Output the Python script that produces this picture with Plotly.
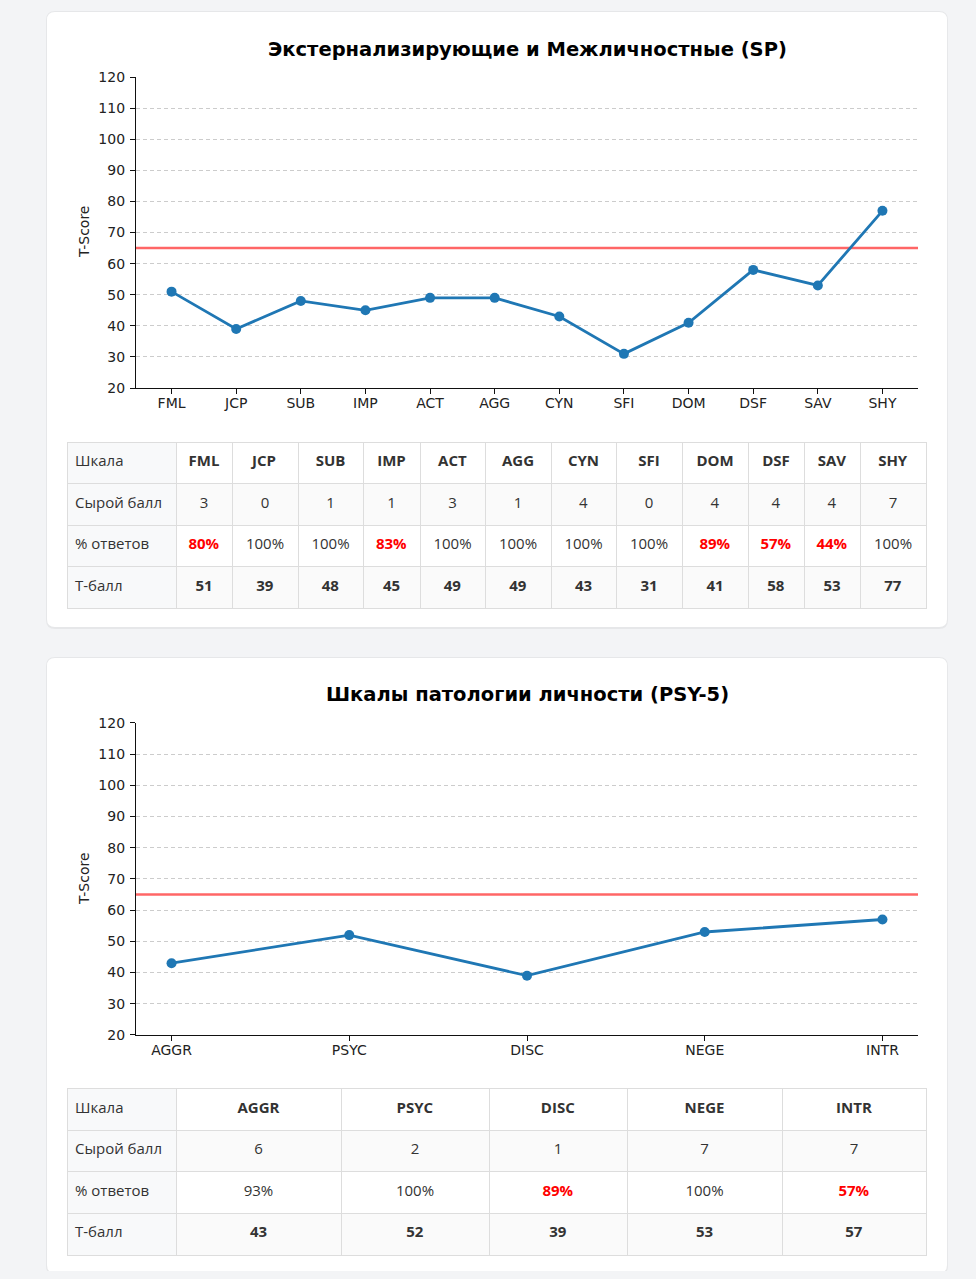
import plotly.graph_objects as go

# page is 976x1279; body keeps 8px top/bottom, no side margin
PAGE_W, PAGE_H = 976, 1279
OFF_Y = 8
W, H = PAGE_W, PAGE_H - 2 * OFF_Y
# the capture squeezes the page height by this factor, so vertical positions are pre-stretched
SQ = (PAGE_H - 2 * OFF_Y) / PAGE_H

# --- data: externalizing & interpersonal scales (SP) ---
sp_scales = ['FML', 'JCP', 'SUB', 'IMP', 'ACT', 'AGG', 'CYN', 'SFI', 'DOM', 'DSF', 'SAV', 'SHY']
sp_raw = [3, 0, 1, 1, 3, 1, 4, 0, 4, 4, 4, 7]
sp_pct = [80, 100, 100, 83, 100, 100, 100, 100, 89, 57, 44, 100]
sp_t = [51, 39, 48, 45, 49, 49, 43, 31, 41, 58, 53, 77]

# --- data: personality pathology scales (PSY-5) ---
psy_scales = ['AGGR', 'PSYC', 'DISC', 'NEGE', 'INTR']
psy_raw = [6, 2, 1, 7, 7]
psy_pct = [93, 100, 89, 100, 57]
psy_t = [43, 52, 39, 53, 57]

row_labels = ['Сырой балл', '% ответов', 'Т-балл']
cutoff = 65
y_ticks = list(range(20, 130, 10))


def fig_y(v):
    # target picture y -> figure pixel y
    return (v - OFF_Y) / SQ - OFF_Y


def px_x(v):
    return min(1, max(0, v / W))


def px_y(v):
    return min(1, max(0, 1 - fig_y(v) / H))


def rounded_rect(x0, y0, x1, y1, r):
    # picture pixel coords -> paper path with rounded corners
    X = lambda v: f'{v / W:.5f}'
    Y = lambda v: f'{1 - fig_y(v) / H:.5f}'
    return (f'M {X(x0 + r)} {Y(y0)} L {X(x1 - r)} {Y(y0)} Q {X(x1)} {Y(y0)} {X(x1)} {Y(y0 + r)} '
            f'L {X(x1)} {Y(y1 - r)} Q {X(x1)} {Y(y1)} {X(x1 - r)} {Y(y1)} '
            f'L {X(x0 + r)} {Y(y1)} Q {X(x0)} {Y(y1)} {X(x0)} {Y(y1 - r)} '
            f'L {X(x0)} {Y(y0 + r)} Q {X(x0)} {Y(y0)} {X(x0 + r)} {Y(y0)} Z')


def span(t):
    # every cell goes through the rich-text path so rows line up the same way
    return f'<span>{t}</span>'


def make_table(scales, raw, pct, tsc, widths, top):
    n = len(scales)
    row_h = 41 / SQ
    header = [span('Шкала')] + [f'<b>{s}</b>' for s in scales]
    cols = [[span(r) for r in row_labels]]
    colors = [['#333333'] * 3]
    for i in range(n):
        low = pct[i] < 90
        p = f'<b>{pct[i]}%</b>' if low else span(f'{pct[i]}%')
        cols.append([span(raw[i]), p, f'<b>{tsc[i]}</b>'])
        colors.append(['#333333', '#ff0000' if low else '#333333', '#333333'])
    fills = [['#f8f9fa'] * 3] + [['#fafafa', '#ffffff', '#fafafa'] for _ in range(n)]
    return go.Table(
        domain=dict(x=[px_x(67), px_x(926.5)], y=[px_y(top + 180), px_y(top)]),
        columnwidth=widths,
        header=dict(values=header, height=row_h, align=['left'] + ['center'] * n,
                    fill_color=[['#f8f9fa']] + [['#ffffff']] * n,
                    line=dict(color='#dddddd', width=1),
                    font=dict(family='Open Sans', size=15, color='#333333')),
        cells=dict(values=cols, height=row_h, align=['left'] + ['center'] * n,
                   fill_color=fills,
                   line=dict(color='#dddddd', width=1),
                   font=dict(family='Open Sans', size=15, color=colors)),
    )


fig = go.Figure()

fig.add_trace(go.Scatter(x=sp_scales, y=sp_t, mode='lines+markers', xaxis='x', yaxis='y',
                         line=dict(color='#1f77b4', width=2.8), marker=dict(size=10, color='#1f77b4'),
                         hoverinfo='x+y', showlegend=False))
fig.add_trace(go.Scatter(x=psy_scales, y=psy_t, mode='lines+markers', xaxis='x2', yaxis='y2',
                         line=dict(color='#1f77b4', width=2.8), marker=dict(size=10, color='#1f77b4'),
                         hoverinfo='x+y', showlegend=False))

fig.add_trace(make_table(sp_scales, sp_raw, sp_pct, sp_t,
                         [109, 56, 66, 65, 57, 65, 66, 65, 66, 66, 56, 56, 66], 442))
fig.add_trace(make_table(psy_scales, psy_raw, psy_pct, psy_t,
                         [109, 165, 148, 138, 155, 144], 1089))

axis_font = dict(family='DejaVu Sans', size=14, color='#222222')
xa = dict(showline=True, linecolor='#111111', linewidth=1.2, ticks='outside', ticklen=5,
          tickcolor='#111111', showgrid=False, zeroline=False, tickfont=axis_font,
          ticklabelstandoff=-3, fixedrange=True)
ya = dict(showline=True, linecolor='#111111', linewidth=1.2, ticks='outside', ticklen=5,
          tickcolor='#111111', range=[20, 120], tickvals=y_ticks, showgrid=True,
          gridcolor='#cccccc', griddash='4px,3px', gridwidth=1, zeroline=False,
          tickfont=axis_font, ticklabelstandoff=2, fixedrange=True)

fig.update_layout(
    width=W, height=H, autosize=False,
    margin=dict(l=0, r=0, t=0, b=0),
    paper_bgcolor='#f3f4f6', plot_bgcolor='rgba(0,0,0,0)',
    xaxis=dict(xa, domain=[px_x(136), px_x(918)], range=[-0.55, len(sp_scales) - 0.45]),
    yaxis=dict(ya, domain=[px_y(388), px_y(77)]),
    xaxis2=dict(xa, domain=[px_x(136), px_x(918)], range=[-0.2, len(psy_scales) - 0.8], anchor='y2'),
    yaxis2=dict(ya, domain=[px_y(1035), px_y(723)], anchor='x2'),
)

# cards
for top, bot in [(12, 627), (658, 1273)]:
    fig.add_shape(type='path', path=rounded_rect(46, top - 1, 948, bot + 2, 9), xref='paper', yref='paper',
                  fillcolor='rgba(0,0,0,0.05)', line_width=0, layer='below')
    fig.add_shape(type='path', path=rounded_rect(47, top, 947, bot, 8), xref='paper', yref='paper',
                  fillcolor='#ffffff', line_width=0, layer='below')

# cutoff lines
for xr, yr in [('x domain', 'y'), ('x2 domain', 'y2')]:
    fig.add_shape(type='line', xref=xr, yref=yr, x0=0, x1=1, y0=cutoff, y1=cutoff,
                  line=dict(color='rgba(255,0,0,0.6)', width=2.5), layer='below')

# titles and axis labels
for text, ty, cy in [('Экстернализирующие и Межличностные (SP)', 49, 232),
                     ('Шкалы патологии личности (PSY-5)', 695, 879)]:
    fig.add_annotation(text=f'<b>{text}</b>', x=px_x(527), y=px_y(ty), xref='paper', yref='paper',
                       xanchor='center', yanchor='middle', showarrow=False,
                       font=dict(family='DejaVu Sans', size=19.5, color='#000000'))
    fig.add_annotation(text='T-Score', x=px_x(84), y=px_y(cy), xref='paper', yref='paper',
                       xanchor='center', yanchor='middle', textangle=-90, showarrow=False,
                       font=dict(family='DejaVu Sans', size=14, color='#222222'))

fig.write_html('out.html', config={'displayModeBar': False},
               post_script="document.body.style.margin='8px 0';"
                           "document.body.style.background='#f3f4f6';")
